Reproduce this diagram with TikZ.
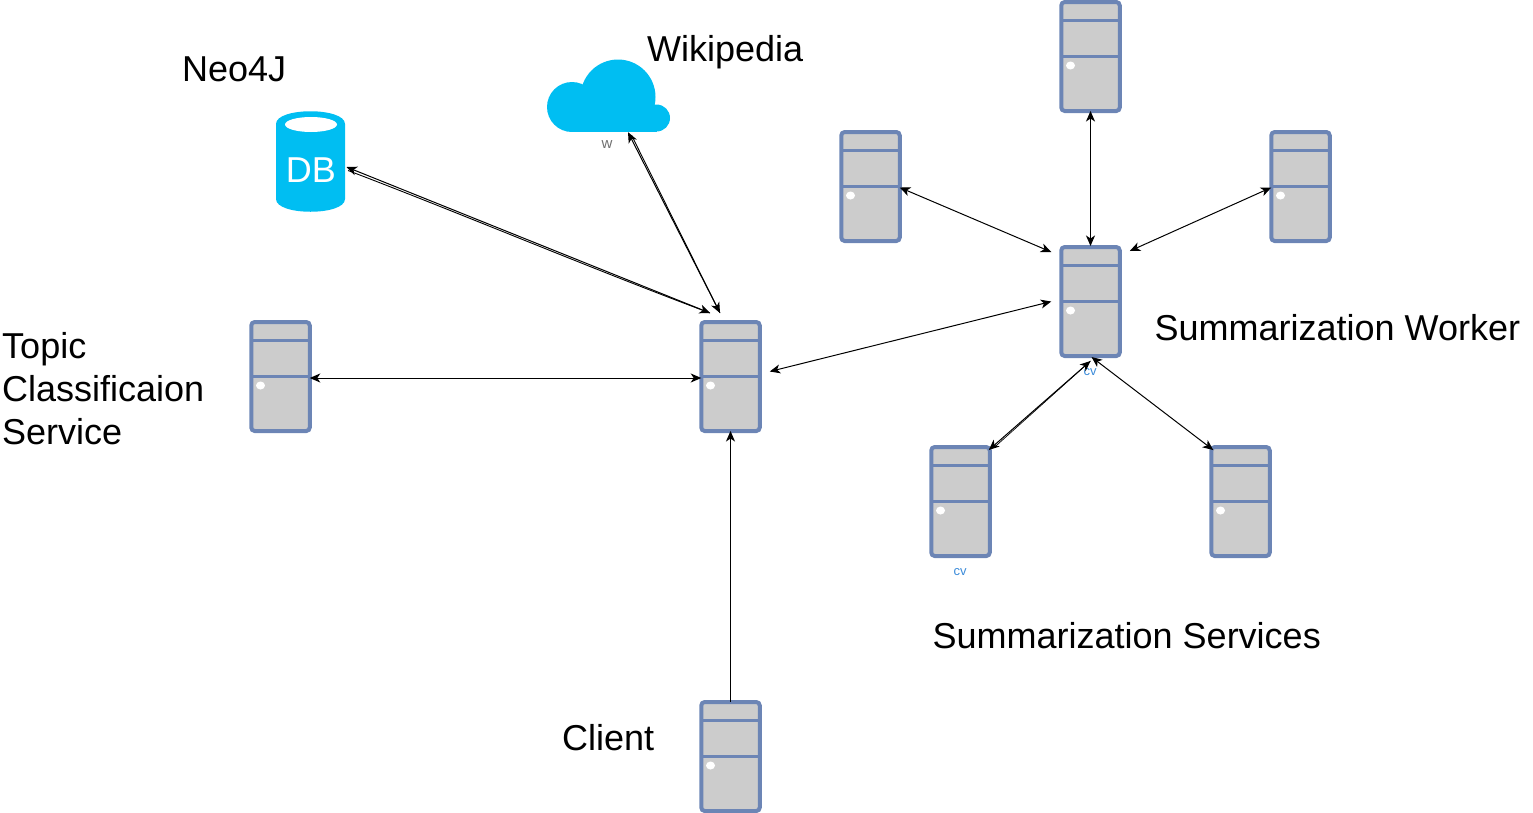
\documentclass[tikz,border=0pt]{standalone}
\usepackage{fontspec}
\setmainfont{Liberation Sans}
\usetikzlibrary{arrows.meta,calc}
\definecolor{srvline}{HTML}{6C85B5}
\definecolor{srvfill}{HTML}{CCCCCC}
\definecolor{azure}{HTML}{00BEF2}
\definecolor{cvblue}{HTML}{3B8BD9}
\definecolor{wgray}{HTML}{707070}
\tikzset{
  srv/.style={draw=srvline,fill=srvfill,line width=4pt,rounded corners=3.5pt,minimum width=58.5pt,minimum height=109pt,inner sep=0pt,outer sep=0pt},
  link/.style={draw=black,line width=1pt,{Stealth[length=10.5pt,width=9pt,inset=3pt]}-{Stealth[length=10.5pt,width=9pt,inset=3pt]}},
  onelink/.style={draw=black,line width=1pt,-{Stealth[length=10.5pt,width=9pt,inset=3pt]}},
  lab/.style={font=\fontsize{36}{43}\selectfont,text=black,inner sep=0pt,anchor=base west,align=left},
  cvlab/.style={font=\fontsize{13}{13}\selectfont,inner sep=0pt,text=cvblue},
  wlab/.style={font=\fontsize{15}{15}\selectfont,inner sep=0pt,text=wgray}
}
\newcommand{\srvdraw}[3]{%
  \node[srv] (#1) at (#2,#3) {};
  \draw[srvline,line width=3.6pt] ($(#1.north west)+(0,18.5)$) -- ($(#1.north east)+(0,18.5)$);
  \draw[srvline,line width=3.6pt] ($(#1.north west)+(0,54.5)$) -- ($(#1.north east)+(0,54.5)$);
  \fill[white] ($(#1.center)+(-20,9)$) ellipse (4.5 and 4);
}
\begin{document}
\begin{tikzpicture}[x=1pt,y=-1pt]
\useasboundingbox (0,0) rectangle (1533,812);
\srvdraw{hub}{730.5}{376.5}
\srvdraw{topic}{280.5}{376.5}
\srvdraw{client}{730.5}{756.5}
\srvdraw{worker}{1090.5}{301.5}
\srvdraw{wtop}{1090.5}{56.5}
\srvdraw{wleft}{870.5}{186.5}
\srvdraw{wright}{1300.5}{186.5}
\srvdraw{sleft}{960.5}{501.5}
\srvdraw{sright}{1240.5}{501.5}
% cloud
\begin{scope}
\clip (500,40) rectangle (700,131.5);
\fill[azure] (572,107) circle (25);
\fill[azure] (618,97) circle (37.5);
\fill[azure] (656.5,118) circle (13.5);
\fill[azure] (572,105) rectangle (657,131.5);
\end{scope}
\node[minimum width=123pt,minimum height=72pt,inner sep=0pt] (cloud) at (608.5,96) {};
% database
\fill[azure] (276,124) .. controls (276,107) and (345,107) .. (345,124) -- (345,199) .. controls (345,216) and (276,216) .. (276,199) -- cycle;
\fill[white] (311,124.5) ellipse (26 and 7.5);
\node[font=\fontsize{36}{36}\selectfont,text=white,inner sep=0pt] (db) at (311,170.5) {DB};
% labels
\node[lab] (lneo) at (182,81.5) {Neo4J};
\node[lab] (lwiki) at (647,61.5) {Wikipedia};
\node[lab,anchor=north west] (ltopic) at (2,332.5) {Topic\\Classificaion\\Service};
\node[lab] (lworker) at (1154.5,340) {Summarization Worker};
\node[lab] (lserv) at (932.5,648) {Summarization Services};
\node[lab] (lclient) at (562,750) {Client};
\node[wlab] (lw) at (607,144.5) {w};
\node[cvlab] (lcv1) at (1090,372) {cv};
\node[cvlab] (lcv2) at (960,572.5) {cv};
% connectors
\draw[link] ($(db.center)+(35.5,-3.5)$) -- ($(hub.north)+(-20.5,-9)$);
\draw[line width=.9pt] ($(db.center)+(37,0)$) .. controls ($(db.center)+(150,43)$) and ($(db.center)+(280,98)$) .. ($(hub.north)+(-20.5,-9)$);
\draw[link] ($(cloud.south)+(19.5,0)$) -- ($(hub.north)+(-10.5,-9)$);
\draw[line width=.9pt] ($(cloud.south)+(23,3)$) -- ($(hub.north)+(-10.5,-9)$);
\draw[link] (hub.west |- topic.center) ++(0,1.5) coordinate (ha) (topic.east |- ha) coordinate (tb) (tb) -- (ha);
\draw[link] ($(hub.east)+(10,-5)$) -- ($(worker.west)+(-10,0)$);
\draw[onelink] (client.north) -- (hub.south);
\draw[link] (wtop.south) -- ($(worker.north)+(0,-1)$);
\draw[link] ($(wleft.east)+(0,1)$) -- ($(worker.north west)+(-10,5)$);
\draw[link] ($(wright.west)+(0,1)$) -- ($(worker.north east)+(10,4)$);
\draw[link] ($(sleft.north east)+(-1,3)$) -- ($(worker.south)+(0,5)$);
\draw[line width=.7pt] ($(sleft.north east)+(6,-1)$) -- ($(worker.south)+(0,5)$);
\draw[link] ($(sright.north west)+(2,3)$) -- ($(worker.south)+(1,1)$);
\end{tikzpicture}
\end{document}
